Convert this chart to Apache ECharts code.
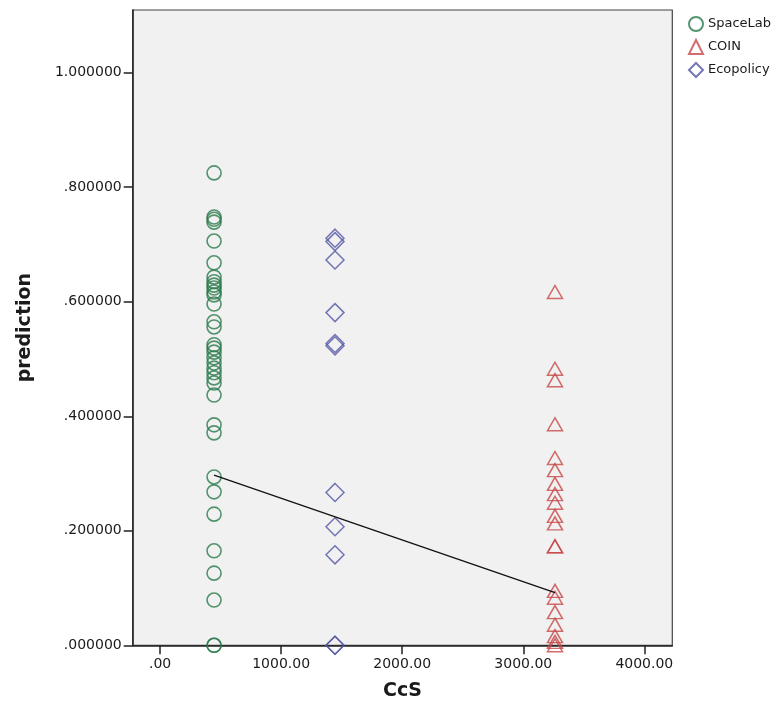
<!DOCTYPE html>
<html>
<head>
<meta charset="utf-8">
<script src="https://cdn.jsdelivr.net/npm/echarts@6/dist/echarts.min.js"></script>
<style>
  html, body { margin: 0; padding: 0; background: #ffffff; }
  #chart { width: 779px; height: 711px; }
</style>
</head>
<body>
<div id="chart"></div>
<script>
// Group positions on the CcS axis
const spaceLabX = 446;
const ecopolicyX = 1445;
const coinX = 3262;

// Prediction values per group
const spaceLabPred = [0.825, 0.748, 0.744, 0.739, 0.706, 0.668, 0.643, 0.635, 0.629, 0.624,
  0.617, 0.612, 0.596, 0.565, 0.556, 0.525, 0.519, 0.512, 0.502, 0.493, 0.484, 0.476,
  0.467, 0.458, 0.437, 0.385, 0.371, 0.294, 0.268, 0.229, 0.165, 0.126, 0.079, 0, 0];
const coinPred = [0.617, 0.483, 0.463, 0.386, 0.327, 0.306, 0.282, 0.264, 0.249, 0.226,
  0.213, 0.173, 0.173, 0.095, 0.083, 0.058, 0.036, 0.016, 0.006, 0];
const ecopolicyPred = [0.711, 0.705, 0.673, 0.581, 0.527, 0.523, 0.267, 0.207, 0.158, 0, 0];

// Overall fit line endpoints
const fitX = [446, 3262];
const fitY = [0.297, 0.092];

// Tick values
const xTicks = [0, 1000, 2000, 3000, 4000];
const yTicks = [0, 0.2, 0.4, 0.6, 0.8, 1.0];

const groupNames = ['SpaceLab', 'COIN', 'Ecopolicy'];

const toPoints = (x, ys) => ys.map(y => [x, y]);

const fmtX = v => {
  const s = v.toFixed(2);
  return s.startsWith('0') ? s.slice(1) : s;
};
const fmtY = v => {
  const s = v.toFixed(6);
  return s.startsWith('0') ? s.slice(1) : s;
};

const chart = echarts.init(document.getElementById('chart'), null, { renderer: 'canvas' });

const axisFont = { fontFamily: 'DejaVu Sans', fontSize: 14, color: '#1a1a1a' };

chart.setOption({
  animation: false,
  backgroundColor: '#ffffff',
  grid: {
    left: 132.7, top: 10, right: 106.7, bottom: 65.7,
    show: true, backgroundColor: '#f1f1f1', borderColor: '#444444', borderWidth: 1.2
  },
  legend: {
    data: groupNames,
    orient: 'vertical',
    left: 683, top: 11,
    itemWidth: 14, itemHeight: 14, itemGap: 7,
    textStyle: { fontFamily: 'DejaVu Sans', fontSize: 13, color: '#1a1a1a', lineHeight: 14 }
  },
  xAxis: {
    type: 'value',
    min: -226, max: 4231,
    name: 'CcS',
    nameLocation: 'middle',
    nameGap: 36,
    nameTextStyle: { fontFamily: 'DejaVu Sans', fontWeight: 'bold', fontSize: 19, color: '#1a1a1a' },
    axisLine: { show: true, onZero: false, lineStyle: { color: '#222222', width: 1.5 } },
    axisTick: { show: true, length: 9, customValues: xTicks, lineStyle: { color: '#222222', width: 1.5 } },
    axisLabel: Object.assign({ customValues: xTicks, margin: 12, formatter: fmtX }, axisFont),
    splitLine: { show: false }
  },
  yAxis: {
    type: 'value',
    min: 0, max: 1.1095,
    name: 'prediction',
    nameLocation: 'middle',
    nameGap: 98,
    nameTextStyle: { fontFamily: 'DejaVu Sans', fontWeight: 'bold', fontSize: 19, color: '#1a1a1a' },
    axisLine: { show: true, onZero: false, lineStyle: { color: '#222222', width: 1.5 } },
    axisTick: { show: true, length: 9, customValues: yTicks, lineStyle: { color: '#222222', width: 1.5 } },
    axisLabel: Object.assign({ customValues: yTicks, margin: 11, formatter: fmtY }, axisFont),
    splitLine: { show: false }
  },
  series: [
    {
      name: 'SpaceLab', type: 'scatter',
      data: toPoints(spaceLabX, spaceLabPred),
      symbol: 'circle', symbolSize: 14,
      itemStyle: { color: 'rgba(0,0,0,0)', borderColor: '#2a7a4c', borderWidth: 1.6 },
      z: 3
    },
    {
      name: 'COIN', type: 'scatter',
      data: toPoints(coinX, coinPred),
      symbol: 'triangle', symbolSize: [15, 13],
      itemStyle: { color: 'rgba(0,0,0,0)', borderColor: '#c64848', borderWidth: 1.5 },
      z: 3
    },
    {
      name: 'Ecopolicy', type: 'scatter',
      data: toPoints(ecopolicyX, ecopolicyPred),
      symbol: 'diamond', symbolSize: [18, 18],
      itemStyle: { color: 'rgba(0,0,0,0)', borderColor: '#5456a4', borderWidth: 1.5 },
      z: 3
    },
    {
      name: 'fit', type: 'line',
      data: fitX.map((x, i) => [x, fitY[i]]),
      symbol: 'none',
      lineStyle: { color: '#111111', width: 1.3 },
      z: 4
    }
  ]
});
</script>
</body>
</html>
